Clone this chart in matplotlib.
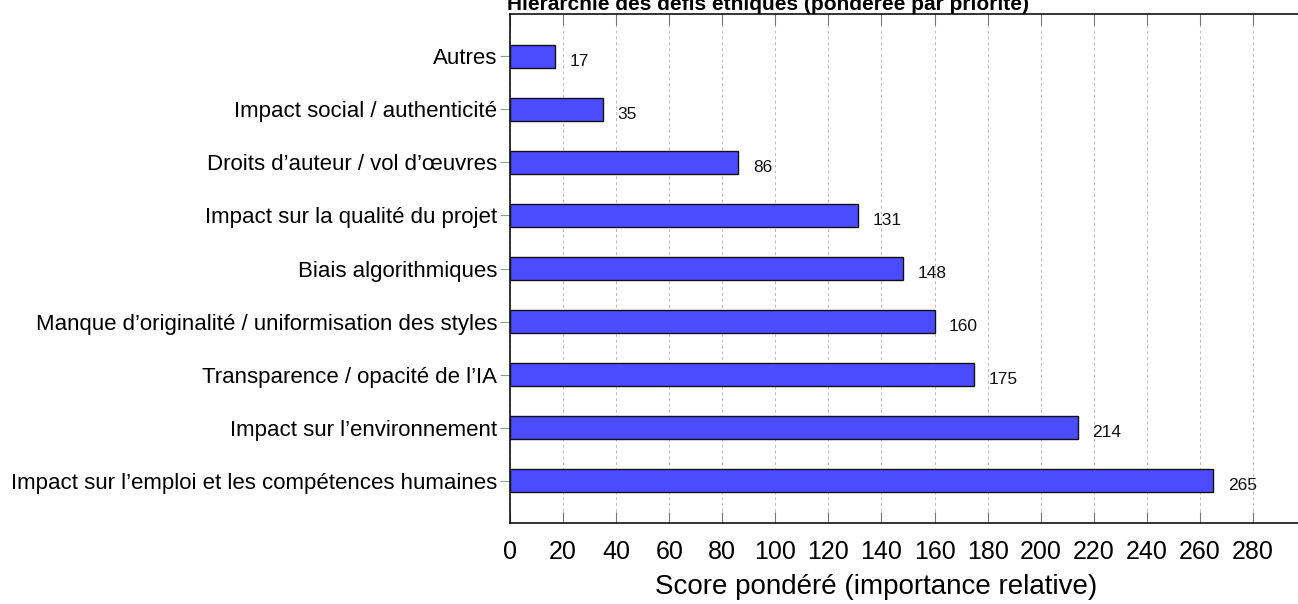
import matplotlib.pyplot as plt

plt.rcParams["font.family"] = ["Liberation Sans", "DejaVu Sans"]

# categories listed bottom to top
categories = [
    "Impact sur l’emploi et les compétences humaines",
    "Impact sur l’environnement",
    "Transparence / opacité de l’IA",
    "Manque d’originalité / uniformisation des styles",
    "Biais algorithmiques",
    "Impact sur la qualité du projet",
    "Droits d’auteur / vol d’œuvres",
    "Impact social / authenticité",
    "Autres",
]
scores = [265, 214, 175, 160, 148, 131, 86, 35, 17]
xticks = list(range(0, 281, 20))

fig = plt.figure(figsize=(12.98, 6.04), dpi=100)
ax = fig.add_axes([510 / 1298, 81 / 604, 1 - 510 / 1298, 509 / 604])

pos = list(range(len(categories)))
ax.barh(pos, scores, height=0.42, color="#4b4bff", edgecolor="#111111", linewidth=1.0, zorder=3)

for y, v in zip(pos, scores):
    ax.text(v + 5.5, y - 0.1, str(v), ha="left", va="center", fontsize=12.5, color="#111111")

ax.set_xlim(0, 297)
ax.set_ylim(-0.8, 8.8)
ax.set_yticks(pos)
ax.set_yticklabels(categories, fontsize=16)
ax.set_xticks(xticks)
ax.set_xticklabels([str(t) for t in xticks], fontsize=18)

ax.grid(axis="x", color="#bbbbbb", linestyle=(0, (3, 3)), linewidth=0.7, zorder=0)
ax.tick_params(axis="x", direction="in", length=8, color="#777777", top=True, pad=12)
ax.tick_params(axis="y", direction="out", length=7, color="#999999", pad=2)
for side in ["left", "bottom", "top"]:
    ax.spines[side].set_linewidth(1.2)
    ax.spines[side].set_color("#111111")
ax.spines["right"].set_visible(False)

ax.set_xlabel("Score pondéré (importance relative)", fontsize=20)
ax.xaxis.set_label_coords(0.464, -0.1)

fig.text(768 / 1298, 1 - 10 / 604, "Hiérarchie des défis éthiques (pondérée par priorité)",
         ha="center", va="baseline", fontsize=15, fontweight="bold")

fig.savefig("out.png", dpi=100)
